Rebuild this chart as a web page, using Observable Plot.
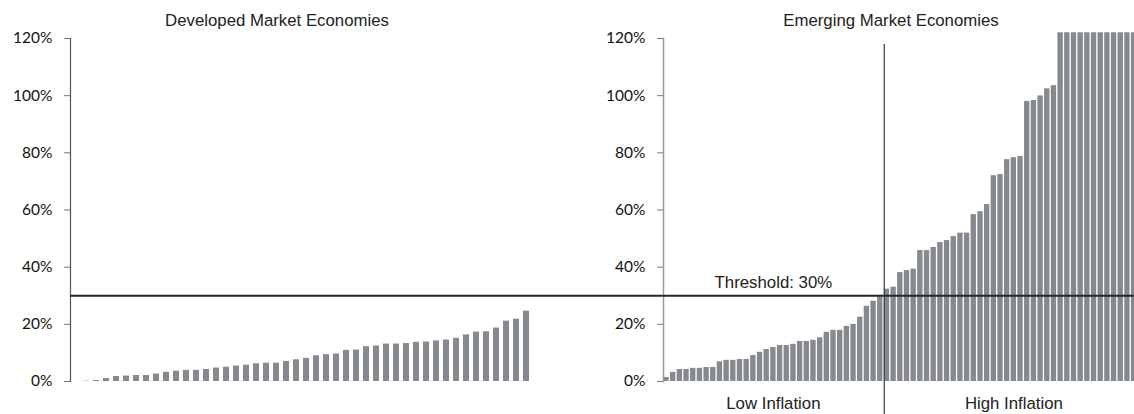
<!DOCTYPE html>
<html><head><meta charset="utf-8">
<script src="https://cdn.jsdelivr.net/npm/d3@7"></script>
<script src="https://cdn.jsdelivr.net/npm/@observablehq/plot@0.6"></script>
<style>
html,body{margin:0;padding:0;background:#fff;overflow:hidden}
#chart{position:relative;width:1134px;height:414px;font-family:"Liberation Sans",Arial,sans-serif;color:#222}
.title{position:absolute;top:11px;font-size:16.8px;line-height:normal;white-space:nowrap;transform:translateX(-50%)}
.panel{position:absolute;top:0}
</style></head><body>
<div id="chart">
  <div class="title" id="t1" style="left:277px"></div>
  <div class="title" id="t2" style="left:891px"></div>
  <div class="panel" id="p1" style="left:0px"></div>
  <div class="panel" id="p2" style="left:593px"></div>
</div>
<script>
// ---- data (percent) ----
const panelTitles = ["Developed Market Economies", "Emerging Market Economies"];
const developedValues = [0.1, 0.35, 1.05, 1.75, 1.9, 2.1, 2.1, 2.6, 3.2, 3.6, 3.9, 3.9, 4.2, 4.7, 5.0,
  5.4, 5.7, 6.2, 6.4, 6.4, 7.0, 7.6, 8.1, 9.0, 9.4, 9.6, 10.9, 11.0, 12.2, 12.4, 13.1, 13.1, 13.3,
  13.7, 13.8, 14.2, 14.5, 15.1, 16.3, 17.3, 17.4, 18.7, 21.1, 21.8, 24.6];
const emergingLowValues = [1.4, 3.2, 4.2, 4.2, 4.6, 4.6, 4.9, 4.9, 6.9, 7.4, 7.4, 7.7, 7.7, 9.1, 10.2,
  11.2, 11.9, 12.6, 12.6, 13.0, 14.0, 14.0, 14.4, 15.3, 17.2, 17.9, 17.9, 19.3, 20.0, 22.5, 26.3, 28.1, 29.7];
const emergingHighValues = [32.3, 33.0, 38.1, 38.8, 39.3, 45.8, 45.8, 46.9, 48.6, 49.3, 50.7, 51.9, 51.9,
  58.4, 59.4, 61.9, 72.0, 72.4, 77.6, 78.3, 78.7, 98.0, 98.3, 99.9, 102.4, 103.5,
  122, 122, 122, 122, 122, 122, 122, 122, 122, 122, 122, 122];
const groupLabels = ["Low Inflation", "High Inflation"];
const threshold = 30;
const thresholdLabel = "Threshold: 30%";
const yTicks = [0, 20, 40, 60, 80, 100, 120];

// ---- tables ----
const developed = developedValues.map((v, i) => ({cat: i, value: v}));
const emerging = emergingLowValues.concat(emergingHighValues).map((v, i) => ({cat: i, value: v}));
const nLow = emergingLowValues.length;
const nHigh = emergingHighValues.length;

document.getElementById("t1").textContent = panelTitles[0];
document.getElementById("t2").textContent = panelTitles[1];

const H = 414, mTop = 38, mBottom = 33;
const barFill = "#868a8e";
const textFont = "Liberation Sans, Arial, sans-serif";
const tickFont = "Lato, sans-serif";

function yAxisMarks(lineStroke, lineWidth) {
  return [
    Plot.axisY({ticks: yTicks, tickFormat: d => d + "%", tickSize: 6, tickPadding: 12, label: null,
      fontSize: 15.5, fontFamily: tickFont, stroke: "#777", fill: "#111"}),
    Plot.frame({anchor: "left", stroke: lineStroke, strokeWidth: lineWidth})
  ];
}

// left panel
const leftRange = [70, 542];
const left = Plot.plot({
  width: 663, height: H, marginLeft: 70, marginRight: 0, marginTop: mTop, marginBottom: mBottom,
  style: {background: "transparent", overflow: "visible"},
  x: {type: "band", domain: developed.map(d => d.cat), range: leftRange, paddingInner: 0.36, paddingOuter: 0.06, axis: null},
  y: {domain: [0, 120], axis: null},
  marks: [
    Plot.barY(developed, {x: "cat", y: "value", fill: barFill}),
    ...yAxisMarks("#555", 1.2),
    Plot.ruleY([threshold], {stroke: "#262626", strokeWidth: 2})
  ]
});
document.getElementById("p1").appendChild(left);

// right panel
const rightRange = [70, 543.6], pI = 0.2, pO = 0.05;
const nR = emerging.length;
const stepR = (rightRange[1] - rightRange[0]) / (nR - pI + 2 * pO);
const bwR = stepR * (1 - pI);
const lowMid = Math.floor(nLow / 2);
const highMid = nLow + Math.floor(nHigh / 2);
const right = Plot.plot({
  width: 541, height: H, marginLeft: 70, marginRight: 0, marginTop: mTop, marginBottom: mBottom,
  style: {background: "transparent", overflow: "visible"},
  x: {type: "band", domain: emerging.map(d => d.cat), range: rightRange, paddingInner: pI, paddingOuter: pO},
  y: {domain: [0, 120], axis: null},
  marks: [
    Plot.barY(emerging, {x: "cat", y: "value", fill: barFill}),
    ...yAxisMarks("#999", 1.5),
    Plot.ruleY([threshold], {stroke: "#262626", strokeWidth: 2}),
    Plot.ruleX([nLow], {x: d => d, y1: -12, y2: 117.9, dx: -bwR / 2, stroke: "#3a3a3a", strokeWidth: 1.2}),
    Plot.text([{cat: lowMid, label: thresholdLabel}], {x: "cat", y: () => threshold, text: "label",
      lineAnchor: "bottom", dy: -8, fontSize: 16.8, fontFamily: textFont, fill: "#222"}),
    Plot.axisX({ticks: [lowMid, highMid], tickFormat: c => c < nLow ? groupLabels[0] : groupLabels[1],
      tickSize: 0, tickPadding: 16, label: null, fontSize: 16.8, fontFamily: textFont, fill: "#222"})
  ]
});
document.getElementById("p2").appendChild(right);
</script>
</body></html>
